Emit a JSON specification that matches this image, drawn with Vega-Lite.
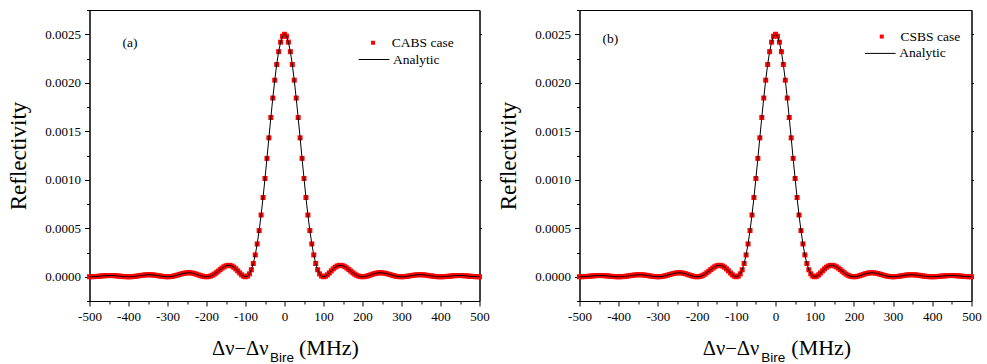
{
  "$schema": "https://vega.github.io/schema/vega-lite/v6.json",
  "padding": {"left": 6.5, "top": 9, "right": 2, "bottom": 0},
  "background": "white",
  "config": {
    "view": {"stroke": "black", "strokeWidth": 1},
    "font": "Liberation Serif",
    "axis": {"grid": false, "domainColor": "black", "tickColor": "black", "labelColor": "black", "titleColor": "black", "labelFont": "Liberation Serif", "titleFont": "Liberation Serif", "titleFontWeight": "normal", "domainWidth": 1, "tickWidth": 1},
    "legend": {"labelFont": "Liberation Serif", "labelColor": "black", "labelFontSize": 13.5, "padding": 0},
    "concat": {"spacing": 6}
  },
  "datasets": {
    "r": [
      {"x": -500, "r": 0}, {"x": -495, "r": 3e-7}, {"x": -490, "r": 1.0e-6}, {"x": -485, "r": 2.2e-6}, {"x": -480, "r": 3.8e-6},
      {"x": -475, "r": 5.6e-6}, {"x": -470, "r": 7.5e-6}, {"x": -465, "r": 9.3e-6}, {"x": -460, "r": 1.08e-5}, {"x": -455, "r": 1.19e-5},
      {"x": -450, "r": 1.25e-5}, {"x": -445, "r": 1.25e-5}, {"x": -440, "r": 1.18e-5}, {"x": -435, "r": 1.06e-5}, {"x": -430, "r": 9.0e-6},
      {"x": -425, "r": 7.0e-6}, {"x": -420, "r": 5.0e-6}, {"x": -415, "r": 3.0e-6}, {"x": -410, "r": 1.4e-6}, {"x": -405, "r": 4e-7},
      {"x": -400, "r": 0}, {"x": -395, "r": 4e-7}, {"x": -390, "r": 1.6e-6}, {"x": -385, "r": 3.5e-6}, {"x": -380, "r": 6.1e-6},
      {"x": -375, "r": 9.0e-6}, {"x": -370, "r": 1.21e-5}, {"x": -365, "r": 1.51e-5}, {"x": -360, "r": 1.77e-5}, {"x": -355, "r": 1.96e-5},
      {"x": -350, "r": 2.07e-5}, {"x": -345, "r": 2.08e-5}, {"x": -340, "r": 1.98e-5}, {"x": -335, "r": 1.79e-5}, {"x": -330, "r": 1.52e-5},
      {"x": -325, "r": 1.20e-5}, {"x": -320, "r": 8.6e-6}, {"x": -315, "r": 5.3e-6}, {"x": -310, "r": 2.5e-6}, {"x": -305, "r": 7e-7},
      {"x": -300, "r": 0}, {"x": -295, "r": 7e-7}, {"x": -290, "r": 2.9e-6}, {"x": -285, "r": 6.4e-6}, {"x": -280, "r": 1.12e-5},
      {"x": -275, "r": 1.68e-5}, {"x": -270, "r": 2.27e-5}, {"x": -265, "r": 2.86e-5}, {"x": -260, "r": 3.39e-5}, {"x": -255, "r": 3.80e-5},
      {"x": -250, "r": 4.05e-5}, {"x": -245, "r": 4.12e-5}, {"x": -240, "r": 3.98e-5}, {"x": -235, "r": 3.64e-5}, {"x": -230, "r": 3.13e-5},
      {"x": -225, "r": 2.50e-5}, {"x": -220, "r": 1.81e-5}, {"x": -215, "r": 1.13e-5}, {"x": -210, "r": 5.5e-6}, {"x": -205, "r": 1.5e-6},
      {"x": -200, "r": 0}, {"x": -195, "r": 1.6e-6}, {"x": -190, "r": 6.7e-6}, {"x": -185, "r": 1.53e-5}, {"x": -180, "r": 2.70e-5},
      {"x": -175, "r": 4.14e-5}, {"x": -170, "r": 5.74e-5}, {"x": -165, "r": 7.39e-5}, {"x": -160, "r": 8.95e-5}, {"x": -155, "r": 1.029e-4},
      {"x": -150, "r": 1.126e-4}, {"x": -145, "r": 1.175e-4}, {"x": -140, "r": 1.169e-4}, {"x": -135, "r": 1.103e-4}, {"x": -130, "r": 9.81e-5},
      {"x": -125, "r": 8.11e-5}, {"x": -120, "r": 6.08e-5}, {"x": -115, "r": 3.95e-5}, {"x": -110, "r": 2.00e-5}, {"x": -105, "r": 5.6e-6},
      {"x": -100, "r": 0}, {"x": -95, "r": 6.9e-6}, {"x": -90, "r": 2.99e-5}, {"x": -85, "r": 7.23e-5}, {"x": -80, "r": 1.367e-4},
      {"x": -75, "r": 2.252e-4}, {"x": -70, "r": 3.384e-4}, {"x": -65, "r": 4.760e-4}, {"x": -60, "r": 6.364e-4}, {"x": -55, "r": 8.169e-4},
      {"x": -50, "r": 1.0132e-3}, {"x": -45, "r": 1.2203e-3}, {"x": -40, "r": 1.4320e-3}, {"x": -35, "r": 1.6416e-3}, {"x": -30, "r": 1.8421e-3},
      {"x": -25, "r": 2.0264e-3}, {"x": -20, "r": 2.1879e-3}, {"x": -15, "r": 2.3203e-3}, {"x": -10, "r": 2.4189e-3}, {"x": -5, "r": 2.4795e-3},
      {"x": 0, "r": 2.5e-3},
      {"x": 5, "r": 2.4795e-3}, {"x": 10, "r": 2.4189e-3}, {"x": 15, "r": 2.3203e-3}, {"x": 20, "r": 2.1879e-3}, {"x": 25, "r": 2.0264e-3},
      {"x": 30, "r": 1.8421e-3}, {"x": 35, "r": 1.6416e-3}, {"x": 40, "r": 1.4320e-3}, {"x": 45, "r": 1.2203e-3}, {"x": 50, "r": 1.0132e-3},
      {"x": 55, "r": 8.169e-4}, {"x": 60, "r": 6.364e-4}, {"x": 65, "r": 4.760e-4}, {"x": 70, "r": 3.384e-4}, {"x": 75, "r": 2.252e-4},
      {"x": 80, "r": 1.367e-4}, {"x": 85, "r": 7.23e-5}, {"x": 90, "r": 2.99e-5}, {"x": 95, "r": 6.9e-6}, {"x": 100, "r": 0},
      {"x": 105, "r": 5.6e-6}, {"x": 110, "r": 2.00e-5}, {"x": 115, "r": 3.95e-5}, {"x": 120, "r": 6.08e-5}, {"x": 125, "r": 8.11e-5},
      {"x": 130, "r": 9.81e-5}, {"x": 135, "r": 1.103e-4}, {"x": 140, "r": 1.169e-4}, {"x": 145, "r": 1.175e-4}, {"x": 150, "r": 1.126e-4},
      {"x": 155, "r": 1.029e-4}, {"x": 160, "r": 8.95e-5}, {"x": 165, "r": 7.39e-5}, {"x": 170, "r": 5.74e-5}, {"x": 175, "r": 4.14e-5},
      {"x": 180, "r": 2.70e-5}, {"x": 185, "r": 1.53e-5}, {"x": 190, "r": 6.7e-6}, {"x": 195, "r": 1.6e-6}, {"x": 200, "r": 0},
      {"x": 205, "r": 1.5e-6}, {"x": 210, "r": 5.5e-6}, {"x": 215, "r": 1.13e-5}, {"x": 220, "r": 1.81e-5}, {"x": 225, "r": 2.50e-5},
      {"x": 230, "r": 3.13e-5}, {"x": 235, "r": 3.64e-5}, {"x": 240, "r": 3.98e-5}, {"x": 245, "r": 4.12e-5}, {"x": 250, "r": 4.05e-5},
      {"x": 255, "r": 3.80e-5}, {"x": 260, "r": 3.39e-5}, {"x": 265, "r": 2.86e-5}, {"x": 270, "r": 2.27e-5}, {"x": 275, "r": 1.68e-5},
      {"x": 280, "r": 1.12e-5}, {"x": 285, "r": 6.4e-6}, {"x": 290, "r": 2.9e-6}, {"x": 295, "r": 7e-7}, {"x": 300, "r": 0},
      {"x": 305, "r": 7e-7}, {"x": 310, "r": 2.5e-6}, {"x": 315, "r": 5.3e-6}, {"x": 320, "r": 8.6e-6}, {"x": 325, "r": 1.20e-5},
      {"x": 330, "r": 1.52e-5}, {"x": 335, "r": 1.79e-5}, {"x": 340, "r": 1.98e-5}, {"x": 345, "r": 2.08e-5}, {"x": 350, "r": 2.07e-5},
      {"x": 355, "r": 1.96e-5}, {"x": 360, "r": 1.77e-5}, {"x": 365, "r": 1.51e-5}, {"x": 370, "r": 1.21e-5}, {"x": 375, "r": 9.0e-6},
      {"x": 380, "r": 6.1e-6}, {"x": 385, "r": 3.5e-6}, {"x": 390, "r": 1.6e-6}, {"x": 395, "r": 4e-7}, {"x": 400, "r": 0},
      {"x": 405, "r": 4e-7}, {"x": 410, "r": 1.4e-6}, {"x": 415, "r": 3.0e-6}, {"x": 420, "r": 5.0e-6}, {"x": 425, "r": 7.0e-6},
      {"x": 430, "r": 9.0e-6}, {"x": 435, "r": 1.06e-5}, {"x": 440, "r": 1.18e-5}, {"x": 445, "r": 1.25e-5}, {"x": 450, "r": 1.25e-5},
      {"x": 455, "r": 1.19e-5}, {"x": 460, "r": 1.08e-5}, {"x": 465, "r": 9.3e-6}, {"x": 470, "r": 7.5e-6}, {"x": 475, "r": 5.6e-6},
      {"x": 480, "r": 3.8e-6}, {"x": 485, "r": 2.2e-6}, {"x": 490, "r": 1.0e-6}, {"x": 495, "r": 3e-7}, {"x": 500, "r": 0}
    ]
  },
  "resolve": {"scale": {"fill": "independent", "stroke": "independent"}, "legend": {"fill": "independent", "stroke": "independent"}},
  "hconcat": [
    {
      "width": 390,
      "height": 291,
      "title": {"text": "(a)", "anchor": "start", "frame": "group", "orient": "top", "dx": 33, "dy": 40.3, "offset": 0, "font": "Liberation Serif", "fontSize": 13.5, "fontWeight": "normal", "color": "black"},
      "data": {"name": "r"},
      "layer": [
        {
          "mark": {"type": "square", "filled": true, "size": 25, "opacity": 1},
          "encoding": {
            "x": {"field": "x", "type": "quantitative", "scale": {"domain": [-500, 500], "nice": false, "zero": false},
              "axis": {"orient": "top", "labels": false, "ticks": false, "domain": true, "title": "Bire", "titleFont": "Liberation Sans", "titleFontSize": 13.5, "titleX": 180, "titleY": 351, "titleAlign": "left", "titleBaseline": "alphabetic", "titleAngle": 0}},
            "y": {"field": "r", "type": "quantitative", "scale": {"domain": [-0.00025, 0.00275], "nice": false, "zero": false},
              "axis": {"orient": "right", "labels": false, "domain": true, "values": [0, 0.0005, 0.001, 0.0015, 0.002, 0.0025], "tickSize": 2,
                "title": "(MHz)", "titleFontSize": 22, "titleAngle": 0, "titleX": -181, "titleY": 344, "titleAlign": "left", "titleBaseline": "alphabetic"}},
            "fill": {"datum": "CABS case", "scale": {"range": ["#ff0000"]},
              "legend": {"orient": "none", "legendX": 276.8, "legendY": 26, "title": null, "symbolType": "square", "symbolSize": 16, "symbolStrokeWidth": 0, "labelOffset": 12}}
          }
        },
        {
          "mark": {"type": "line", "strokeWidth": 1},
          "encoding": {
            "x": {"field": "x", "type": "quantitative", "scale": {"domain": [-500, 500], "nice": false, "zero": false},
              "axis": {"orient": "bottom", "values": [-500, -400, -300, -200, -100, 0, 100, 200, 300, 400, 500],
                "labelExpr": "'' + datum.value", "tickSize": 5,
                "labelFontSize": 13, "labelPadding": 4, "labelFlush": false, "labelOverlap": false,
                "title": "Δν−Δν", "titleFontSize": 20.5, "titleX": 122, "titleY": 53, "titleAlign": "left", "titleBaseline": "alphabetic"}},
            "y": {"field": "r", "type": "quantitative", "scale": {"domain": [-0.00025, 0.00275], "nice": false, "zero": false},
              "axis": {"orient": "left", "values": [0, 0.0005, 0.001, 0.0015, 0.002, 0.0025], "format": ".4f", "tickSize": 5,
                "labelFontSize": 13, "labelPadding": 4, "labelFlush": false, "labelOverlap": false,
                "title": "Reflectivity", "titleFontSize": 23, "titlePadding": 14}},
            "stroke": {"datum": "Analytic", "scale": {"range": ["#000000"]},
              "legend": {"orient": "none", "legendX": 268.5, "legendY": 33.5, "title": null, "symbolType": "stroke", "symbolSize": 936, "symbolStrokeWidth": 1, "labelOffset": 3}}
          }
        },
        {
          "mark": {"type": "line", "opacity": 0},
          "encoding": {
            "x": {"field": "x", "type": "quantitative", "scale": {"domain": [-500, 500], "nice": false, "zero": false},
              "axis": {"orient": "bottom", "values": [-450, -350, -250, -150, -50, 50, 150, 250, 350, 450], "labels": false, "domain": false, "tickSize": 3, "title": null}},
            "y": {"field": "r", "type": "quantitative", "scale": {"domain": [-0.00025, 0.00275], "nice": false, "zero": false},
              "axis": {"orient": "left", "values": [-0.00025, 0.00025, 0.00075, 0.00125, 0.00175, 0.00225, 0.00275], "labels": false, "domain": false, "tickSize": 3, "title": null}}
          }
        }
      ],
      "resolve": {"axis": {"x": "independent", "y": "independent"}}
    },
    {
      "width": 392,
      "height": 291,
      "title": {"text": "(b)", "anchor": "start", "frame": "group", "orient": "top", "dx": 23, "dy": 35.5, "offset": 0, "font": "Liberation Serif", "fontSize": 13.5, "fontWeight": "normal", "color": "black"},
      "data": {"name": "r"},
      "layer": [
        {
          "mark": {"type": "square", "filled": true, "size": 25, "opacity": 1},
          "encoding": {
            "x": {"field": "x", "type": "quantitative", "scale": {"domain": [-500, 500], "nice": false, "zero": false},
              "axis": {"orient": "top", "labels": false, "ticks": false, "domain": true, "title": "Bire", "titleFont": "Liberation Sans", "titleFontSize": 13.5, "titleX": 181.3, "titleY": 351, "titleAlign": "left", "titleBaseline": "alphabetic", "titleAngle": 0}},
            "y": {"field": "r", "type": "quantitative", "scale": {"domain": [-0.00025, 0.00275], "nice": false, "zero": false},
              "axis": {"orient": "right", "labels": false, "domain": true, "values": [0, 0.0005, 0.001, 0.0015, 0.002, 0.0025], "tickSize": 2,
                "title": "(MHz)", "titleFontSize": 22, "titleAngle": 0, "titleX": -180.7, "titleY": 344, "titleAlign": "left", "titleBaseline": "alphabetic"}},
            "fill": {"datum": "CSBS case", "scale": {"range": ["#ff0000"]},
              "legend": {"orient": "none", "legendX": 295.5, "legendY": 19.8, "title": null, "symbolType": "square", "symbolSize": 16, "symbolStrokeWidth": 0, "labelOffset": 12}}
          }
        },
        {
          "mark": {"type": "line", "strokeWidth": 1},
          "encoding": {
            "x": {"field": "x", "type": "quantitative", "scale": {"domain": [-500, 500], "nice": false, "zero": false},
              "axis": {"orient": "bottom", "values": [-500, -400, -300, -200, -100, 0, 100, 200, 300, 400, 500],
                "labelExpr": "'' + datum.value", "tickSize": 5,
                "labelFontSize": 13, "labelPadding": 4, "labelFlush": false, "labelOverlap": false,
                "title": "Δν−Δν", "titleFontSize": 20.5, "titleX": 122.7, "titleY": 53, "titleAlign": "left", "titleBaseline": "alphabetic"}},
            "y": {"field": "r", "type": "quantitative", "scale": {"domain": [-0.00025, 0.00275], "nice": false, "zero": false},
              "axis": {"orient": "left", "values": [0, 0.0005, 0.001, 0.0015, 0.002, 0.0025], "format": ".4f", "tickSize": 5,
                "labelFontSize": 13, "labelPadding": 4, "labelFlush": false, "labelOverlap": false,
                "title": "Reflectivity", "titleFontSize": 23, "titlePadding": 14}},
            "stroke": {"datum": "Analytic", "scale": {"range": ["#000000"]},
              "legend": {"orient": "none", "legendX": 284.8, "legendY": 27.4, "title": null, "symbolType": "stroke", "symbolSize": 936, "symbolStrokeWidth": 1, "labelOffset": 3}}
          }
        },
        {
          "mark": {"type": "line", "opacity": 0},
          "encoding": {
            "x": {"field": "x", "type": "quantitative", "scale": {"domain": [-500, 500], "nice": false, "zero": false},
              "axis": {"orient": "bottom", "values": [-450, -350, -250, -150, -50, 50, 150, 250, 350, 450], "labels": false, "domain": false, "tickSize": 3, "title": null}},
            "y": {"field": "r", "type": "quantitative", "scale": {"domain": [-0.00025, 0.00275], "nice": false, "zero": false},
              "axis": {"orient": "left", "values": [-0.00025, 0.00025, 0.00075, 0.00125, 0.00175, 0.00225, 0.00275], "labels": false, "domain": false, "tickSize": 3, "title": null}}
          }
        }
      ],
      "resolve": {"axis": {"x": "independent", "y": "independent"}}
    }
  ]
}
